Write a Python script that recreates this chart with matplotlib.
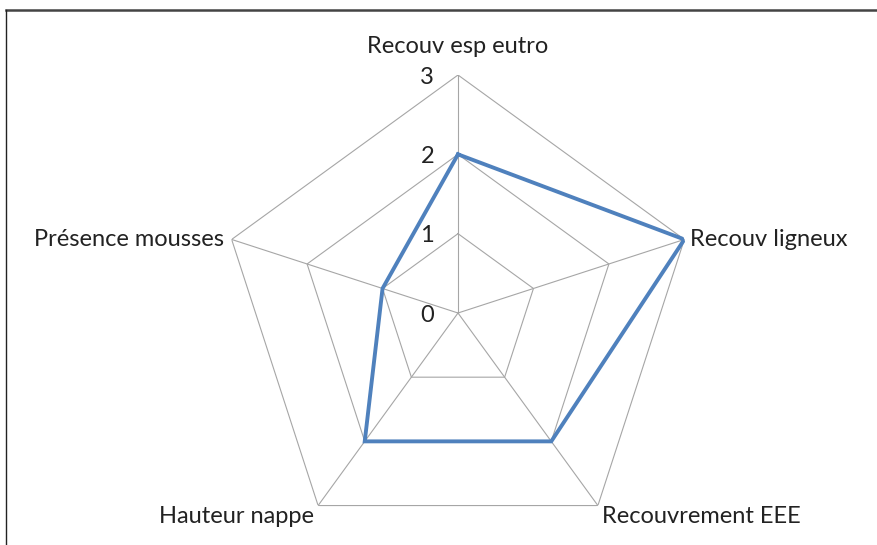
import numpy as np
import matplotlib.pyplot as plt
from matplotlib.lines import Line2D

categories = ['Recouv esp eutro', 'Recouv ligneux', 'Recouvrement EEE',
              'Hauteur nappe', 'Présence mousses']
values = [2, 3, 2, 2, 1]
ticks = [0, 1, 2, 3]

plt.rcParams['font.family'] = ['Lato', 'DejaVu Sans']

W, H = 877, 545
fig = plt.figure(figsize=(W / 100, H / 100), dpi=100)
cx, cy, rad = 458, 313, 238
ax = fig.add_axes([(cx - rad) / W, (H - cy - rad) / H, 2 * rad / W, 2 * rad / H],
                  projection='polar')
ax.set_theta_offset(np.pi / 2)
ax.set_theta_direction(-1)
ax.set_ylim(0, 3)
ax.axis('off')

n = len(categories)
ang = np.linspace(0, 2 * np.pi, n, endpoint=False)
ang_c = np.append(ang, ang[0])

grid_col = '#a6a6a6'
for r in ticks[1:]:
    ax.plot(ang_c, [r] * (n + 1), color=grid_col, lw=0.8, zorder=1)
for a in ang:
    ax.plot([a, a], [0, ticks[-1]], color=grid_col, lw=0.8, zorder=1)

ax.plot(ang_c, values + [values[0]], color='#4f81bd', lw=2.8, zorder=3,
        solid_joinstyle='miter')

fs = 17
for r in ticks:
    ax.annotate(str(r), (0, r), xytext=(-24, -2), textcoords='offset pixels',
                ha='right', va='center', fontsize=fs, color='#222222')

offsets = [((0, 29), 'center', 'center'),
           ((6, 0), 'left', 'center'),
           ((4, -11), 'left', 'center'),
           ((-4, -11), 'right', 'center'),
           ((-8, 0), 'right', 'center')]
for a, lab, (off, ha, va) in zip(ang, categories, offsets):
    ax.annotate(lab, (a, ticks[-1]), xytext=off, textcoords='offset pixels',
                ha=ha, va=va, fontsize=fs, color='#222222', annotation_clip=False)

fig.add_artist(Line2D([6 / W, 1], [1 - 10 / H, 1 - 10 / H], color='#444444', lw=1.8,
                      transform=fig.transFigure))
fig.add_artist(Line2D([6 / W, 6 / W], [0, 1 - 10 / H], color='#222222', lw=1.0,
                      transform=fig.transFigure))

fig.savefig('out.png', dpi=100, facecolor='white')
